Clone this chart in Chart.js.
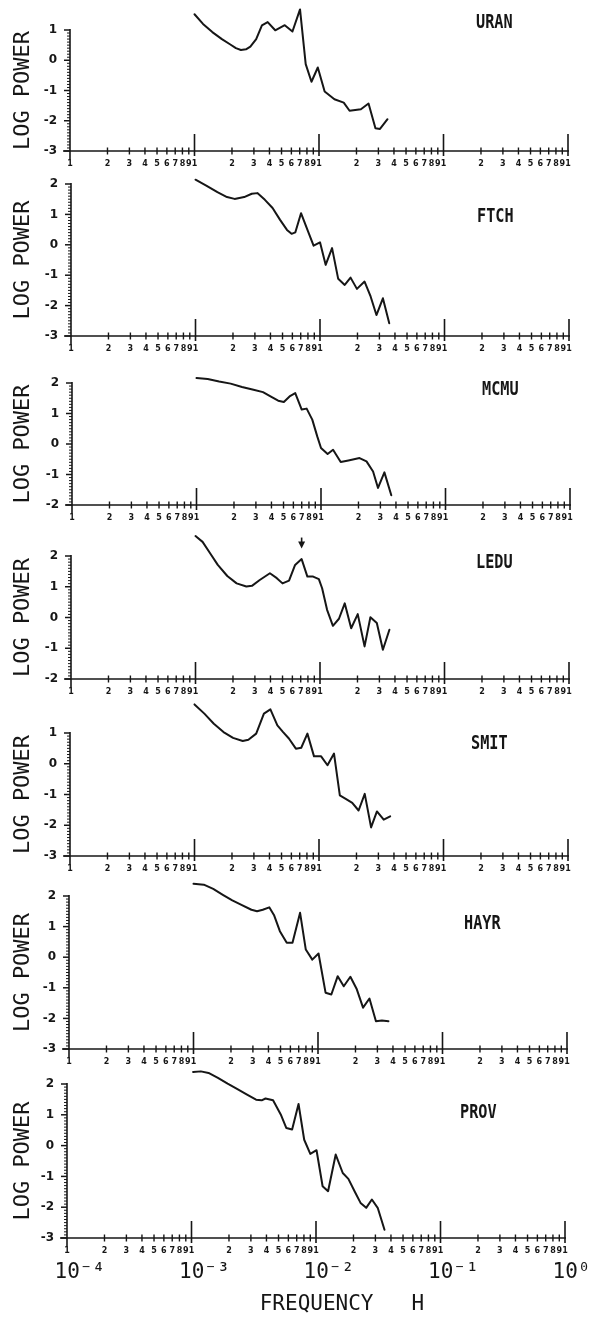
<!DOCTYPE html>
<html>
<head>
<meta charset="utf-8">
<script src="https://cdn.jsdelivr.net/npm/chart.js@4.4.1/dist/chart.umd.min.js"></script>
<style>
  html, body { margin: 0; padding: 0; background: #ffffff; }
  #wrap { position: relative; width: 596px; height: 1319px; overflow: hidden; background: #ffffff; }
  #wrap canvas { position: absolute; left: 0; }
</style>
</head>
<body>
<div id="wrap"></div>
<script>
// ---------------- DATA ----------------
const stationNames = ['URAN', 'FTCH', 'MCMU', 'LEDU', 'SMIT', 'HAYR', 'PROV'];

const uranFreq  = [1.00e-3, 1.17e-3, 1.39e-3, 1.66e-3, 1.94e-3, 2.15e-3, 2.36e-3, 2.59e-3, 2.81e-3, 3.13e-3, 3.48e-3, 3.87e-3, 4.45e-3, 5.31e-3, 6.12e-3, 7.04e-3, 7.82e-3, 8.70e-3, 9.78e-3, 1.11e-2, 1.33e-2, 1.58e-2, 1.76e-2, 2.17e-2, 2.50e-2, 2.84e-2, 3.09e-2, 3.55e-2];
const uranPower = [1.52, 1.20, 0.93, 0.70, 0.52, 0.40, 0.34, 0.36, 0.45, 0.70, 1.15, 1.26, 0.99, 1.16, 0.95, 1.68, -0.13, -0.71, -0.24, -1.03, -1.29, -1.40, -1.67, -1.62, -1.43, -2.25, -2.27, -1.95];

const ftchFreq  = [1.00e-3, 1.22e-3, 1.50e-3, 1.79e-3, 2.06e-3, 2.46e-3, 2.83e-3, 3.14e-3, 3.61e-3, 4.16e-3, 4.78e-3, 5.43e-3, 5.91e-3, 6.34e-3, 7.04e-3, 7.93e-3, 8.88e-3, 1.00e-2, 1.11e-2, 1.25e-2, 1.40e-2, 1.58e-2, 1.76e-2, 1.98e-2, 2.28e-2, 2.55e-2, 2.84e-2, 3.20e-2, 3.60e-2];
const ftchPower = [2.14, 1.95, 1.73, 1.57, 1.51, 1.57, 1.68, 1.70, 1.48, 1.21, 0.82, 0.49, 0.36, 0.41, 1.04, 0.49, -0.03, 0.08, -0.66, -0.11, -1.12, -1.32, -1.08, -1.45, -1.21, -1.70, -2.31, -1.76, -2.58];

const mcmuFreq  = [1.00e-3, 1.23e-3, 1.52e-3, 1.88e-3, 2.32e-3, 2.87e-3, 3.42e-3, 3.93e-3, 4.53e-3, 5.03e-3, 5.59e-3, 6.21e-3, 7.00e-3, 7.67e-3, 8.51e-3, 9.33e-3, 1.00e-2, 1.13e-2, 1.25e-2, 1.44e-2, 1.66e-2, 2.04e-2, 2.32e-2, 2.62e-2, 2.87e-2, 3.23e-2, 3.67e-2];
const mcmuPower = [2.16, 2.13, 2.05, 1.98, 1.87, 1.78, 1.70, 1.56, 1.42, 1.38, 1.56, 1.67, 1.13, 1.16, 0.80, 0.25, -0.13, -0.33, -0.19, -0.59, -0.54, -0.46, -0.57, -0.90, -1.44, -0.93, -1.68];

const leduFreq  = [1.00e-3, 1.14e-3, 1.31e-3, 1.51e-3, 1.80e-3, 2.14e-3, 2.56e-3, 2.84e-3, 3.28e-3, 3.96e-3, 4.50e-3, 5.00e-3, 5.64e-3, 6.31e-3, 7.12e-3, 7.92e-3, 8.81e-3, 9.79e-3, 1.04e-2, 1.14e-2, 1.27e-2, 1.42e-2, 1.58e-2, 1.78e-2, 2.01e-2, 2.28e-2, 2.54e-2, 2.86e-2, 3.20e-2, 3.61e-2];
const leduPower = [2.65, 2.46, 2.09, 1.71, 1.35, 1.11, 1.01, 1.03, 1.22, 1.44, 1.28, 1.11, 1.20, 1.71, 1.90, 1.33, 1.33, 1.25, 0.95, 0.25, -0.27, -0.04, 0.46, -0.35, 0.11, -0.94, 0.01, -0.18, -1.05, -0.40];

const smitFreq  = [1.00e-3, 1.20e-3, 1.43e-3, 1.71e-3, 2.04e-3, 2.44e-3, 2.71e-3, 3.13e-3, 3.61e-3, 4.07e-3, 4.63e-3, 5.15e-3, 5.73e-3, 6.52e-3, 7.20e-3, 8.07e-3, 9.12e-3, 1.04e-2, 1.17e-2, 1.32e-2, 1.47e-2, 1.64e-2, 1.85e-2, 2.08e-2, 2.33e-2, 2.62e-2, 2.92e-2, 3.31e-2, 3.73e-2];
const smitPower = [1.93, 1.63, 1.30, 1.03, 0.84, 0.74, 0.78, 0.98, 1.63, 1.77, 1.25, 1.03, 0.82, 0.49, 0.52, 0.98, 0.24, 0.24, -0.05, 0.33, -1.03, -1.14, -1.27, -1.52, -0.98, -2.07, -1.55, -1.82, -1.71];

const hayrFreq  = [1.00e-3, 1.21e-3, 1.44e-3, 1.72e-3, 2.05e-3, 2.45e-3, 2.92e-3, 3.24e-3, 3.60e-3, 4.06e-3, 4.45e-3, 4.94e-3, 5.61e-3, 6.24e-3, 7.18e-3, 7.98e-3, 9.00e-3, 1.01e-2, 1.15e-2, 1.28e-2, 1.44e-2, 1.61e-2, 1.82e-2, 2.05e-2, 2.30e-2, 2.59e-2, 2.92e-2, 3.26e-2, 3.68e-2];
const hayrPower = [2.40, 2.37, 2.23, 2.04, 1.86, 1.70, 1.55, 1.50, 1.55, 1.63, 1.36, 0.85, 0.47, 0.47, 1.45, 0.25, -0.08, 0.12, -1.16, -1.22, -0.62, -0.95, -0.64, -1.05, -1.65, -1.35, -2.09, -2.07, -2.09];

const provFreq  = [1.03e-3, 1.19e-3, 1.37e-3, 1.63e-3, 1.95e-3, 2.32e-3, 2.77e-3, 3.30e-3, 3.66e-3, 3.93e-3, 4.52e-3, 5.21e-3, 5.78e-3, 6.43e-3, 7.24e-3, 8.04e-3, 9.00e-3, 1.01e-2, 1.13e-2, 1.25e-2, 1.44e-2, 1.64e-2, 1.82e-2, 2.05e-2, 2.28e-2, 2.53e-2, 2.81e-2, 3.13e-2, 3.55e-2];
const provPower = [2.39, 2.41, 2.36, 2.20, 2.01, 1.84, 1.66, 1.49, 1.47, 1.53, 1.47, 1.01, 0.57, 0.52, 1.35, 0.19, -0.27, -0.15, -1.32, -1.48, -0.29, -0.89, -1.08, -1.50, -1.86, -2.02, -1.75, -2.02, -2.73];

const panelFreqs  = [uranFreq, ftchFreq, mcmuFreq, leduFreq, smitFreq, hayrFreq, provFreq];
const panelPowers = [uranPower, ftchPower, mcmuPower, leduPower, smitPower, hayrPower, provPower];

// axis ranges and tick labels
const yMinVals = [-3, -3, -2, -2, -3, -3, -3];
const yMaxVals = [1, 2, 2, 2, 1, 2, 2];
const xTickDigits = ['1', '2', '3', '4', '5', '6', '7', '8', '9'];
const decadeExponents = [-4, -3, -2, -1];
const decadeLabels = ['10⁻⁴', '10⁻³', '10⁻²', '10⁻¹', '10⁰'];
const yAxisTitle = 'LOG POWER';
const xAxisTitle = 'FREQUENCY   H';

// arrow marking the LEDU peak (frequency, from / to log power)
const arrowPanel = 3;
const arrowFreq = 7.12e-3;
const arrowFrom = 2.60;
const arrowTo = 2.24;

// ---------------- LAYOUT (pixels) ----------------
const INK = '#161616';
const geom = [
  { top: 30,   bottom: 151,  left: 70, pad: 30, lx: 476, ly: 23 },
  { top: 184,  bottom: 336,  left: 71, pad: 25, lx: 477, ly: 217 },
  { top: 383,  bottom: 505,  left: 72, pad: 22, lx: 482, ly: 390 },
  { top: 556,  bottom: 679,  left: 71, pad: 32, lx: 476, ly: 563 },
  { top: 733,  bottom: 856,  left: 70, pad: 35, lx: 471, ly: 744 },
  { top: 896,  bottom: 1049, left: 69, pad: 22, lx: 464, ly: 924 },
  { top: 1084, bottom: 1238, left: 67, pad: 22, lx: 460, ly: 1113 }
];
const AXIS_W = 498;
const XAXIS_H = 22;
const DEC_H = 59;

const xTickValues = decadeExponents
  .flatMap(e => xTickDigits.map((_, k) => (k + 1) * Math.pow(10, e)))
  .concat([1]);
const decadeValues = decadeExponents.map(e => Math.pow(10, e)).concat([1]);
const digitOf = v => Math.round(v / Math.pow(10, Math.floor(Math.log10(v) + 1e-9)));

function seg(ctx, x1, y1, x2, y2) {
  ctx.beginPath(); ctx.moveTo(x1, y1); ctx.lineTo(x2, y2); ctx.stroke();
}

const decor = {
  id: 'decor',
  afterDatasetsDraw(chart, args, o) {
    const { ctx, chartArea: ca, scales } = chart;
    const x = scales.x, y = scales.y;
    const y0 = y.getPixelForValue(y.min);
    const yTop = y.getPixelForValue(y.max);
    ctx.save();
    ctx.strokeStyle = INK; ctx.fillStyle = INK; ctx.lineCap = 'butt';
    // axis lines
    ctx.lineWidth = 1.6;
    seg(ctx, ca.left - 7, y0, x.getPixelForValue(x.max) + 1, y0);
    seg(ctx, ca.left, yTop - 1, ca.left, y0 + 8);
    // y ticks (0.1 minor, integer major)
    const n = Math.round((y.max - y.min) * 10);
    for (let k = 0; k <= n; k++) {
      const v = y.min + k / 10;
      const py = y.getPixelForValue(v);
      const major = k % 10 === 0;
      ctx.lineWidth = major ? 1.5 : 1;
      seg(ctx, ca.left - (major ? 6 : 3), py, ca.left, py);
    }
    // x ticks
    ctx.lineWidth = 1.4;
    x.ticks.forEach(t => {
      const px = x.getPixelForValue(t.value);
      if (digitOf(t.value) === 1) {
        if (t.value > x.min * 1.01) { ctx.lineWidth = 1.6; seg(ctx, px, y0 - 17, px, y0 + 5); ctx.lineWidth = 1.4; }
      } else {
        seg(ctx, px, y0 - 3.5, px, y0 + 3.5);
      }
    });
    // station label
    ctx.font = 'bold 16px "DejaVu Sans Mono", monospace';
    ctx.textAlign = 'left'; ctx.textBaseline = 'middle';
    ctx.save();
    ctx.translate(o.lx, o.ly);
    ctx.scale(0.95, 1.22);
    ctx.fillText(o.label, 0, 0);
    ctx.restore();
    // arrow
    if (o.arrow) {
      const ax = x.getPixelForValue(o.arrow.f);
      const a1 = y.getPixelForValue(o.arrow.from);
      const a2 = y.getPixelForValue(o.arrow.to);
      ctx.lineWidth = 1.6;
      seg(ctx, ax, a1, ax, a2 - 5);
      ctx.beginPath(); ctx.moveTo(ax - 3.5, a2 - 7); ctx.lineTo(ax + 3.5, a2 - 7); ctx.lineTo(ax, a2); ctx.closePath(); ctx.fill();
    }
    // x axis title on bottom panel
    if (o.xTitle) {
      ctx.font = '21px "DejaVu Sans Mono", monospace';
      ctx.textAlign = 'center'; ctx.textBaseline = 'middle';
      ctx.fillText(o.xTitle, ca.left + ca.width * 0.552, y0 + 67);
    }
    ctx.restore();
  }
};

const wrap = document.getElementById('wrap');
geom.forEach((g, i) => {
  const isLast = i === geom.length - 1;
  const canvasTop = g.top - g.pad;
  const H = g.pad + (g.bottom - g.top) + XAXIS_H + (isLast ? DEC_H : 0);
  const c = document.createElement('canvas');
  c.width = 596; c.height = H;
  c.style.top = canvasTop + 'px';
  c.style.width = '596px'; c.style.height = H + 'px';
  wrap.appendChild(c);

  const yInts = [];
  for (let v = yMinVals[i]; v <= yMaxVals[i]; v++) yInts.push({ value: v });

  const scales = {
    x: {
      type: 'logarithmic', min: 1e-4, max: 1, position: 'bottom', weight: 0,
      grid: { display: false, drawTicks: false }, border: { display: false },
      afterBuildTicks: s => { s.ticks = xTickValues.map(v => ({ value: v })); },
      afterFit: s => { s.height = XAXIS_H; s.paddingLeft = 0; s.paddingRight = 0; },
      ticks: {
        autoSkip: false, maxRotation: 0, minRotation: 0, padding: 8, color: INK,
        font: { family: '"DejaVu Sans", sans-serif', weight: 'bold', size: 8 },
        callback: v => xTickDigits[digitOf(v) - 1]
      }
    },
    y: {
      type: 'linear', min: yMinVals[i], max: yMaxVals[i], position: 'left',
      grid: { display: false, drawTicks: false }, border: { display: false },
      afterBuildTicks: s => { s.ticks = yInts.map(t => ({ value: t.value })); },
      afterFit: s => { s.width = g.left; },
      ticks: {
        padding: 13, color: INK,
        font: { family: '"DejaVu Sans", sans-serif', weight: 'bold', size: 12 },
        callback: v => String(v)
      },
      title: {
        display: true, text: yAxisTitle, color: INK,
        font: { family: '"DejaVu Sans Mono", monospace', size: 22, weight: 'normal' },
        padding: { top: 10, bottom: 0 }
      }
    }
  };
  if (isLast) {
    scales.xDec = {
      type: 'logarithmic', min: 1e-4, max: 1, position: 'bottom', weight: 1,
      grid: { display: false, drawTicks: false }, border: { display: false },
      afterBuildTicks: s => { s.ticks = decadeValues.map(v => ({ value: v })); },
      afterFit: s => { s.height = DEC_H; s.paddingLeft = 0; s.paddingRight = 0; },
      ticks: {
        autoSkip: false, maxRotation: 0, minRotation: 0, padding: 0, color: INK,
        align: 'start', labelOffset: -12.5,
        font: { family: '"DejaVu Sans Mono", monospace', size: 21, weight: 'normal' },
        callback: (v, idx) => decadeLabels[idx]
      }
    };
  }

  new Chart(c.getContext('2d'), {
    type: 'line',
    data: {
      datasets: [{
        label: stationNames[i],
        data: panelFreqs[i].map((f, j) => ({ x: f, y: panelPowers[i][j] })),
        xAxisID: 'x', yAxisID: 'y',
        borderColor: INK, borderWidth: 2, pointRadius: 0, tension: 0,
        borderJoinStyle: 'round', borderCapStyle: 'round', fill: false, clip: false
      }]
    },
    options: {
      responsive: false, animation: false, devicePixelRatio: 1, events: [],
      layout: { padding: { top: g.pad, right: 596 - (g.left + AXIS_W), left: 0, bottom: 0 } },
      plugins: {
        legend: { display: false }, tooltip: { enabled: false },
        decor: {
          label: stationNames[i], lx: g.lx, ly: g.ly - canvasTop,
          arrow: i === arrowPanel ? { f: arrowFreq, from: arrowFrom, to: arrowTo } : null,
          xTitle: isLast ? xAxisTitle : null
        }
      },
      scales
    },
    plugins: [decor]
  });
});
</script>
</body>
</html>
